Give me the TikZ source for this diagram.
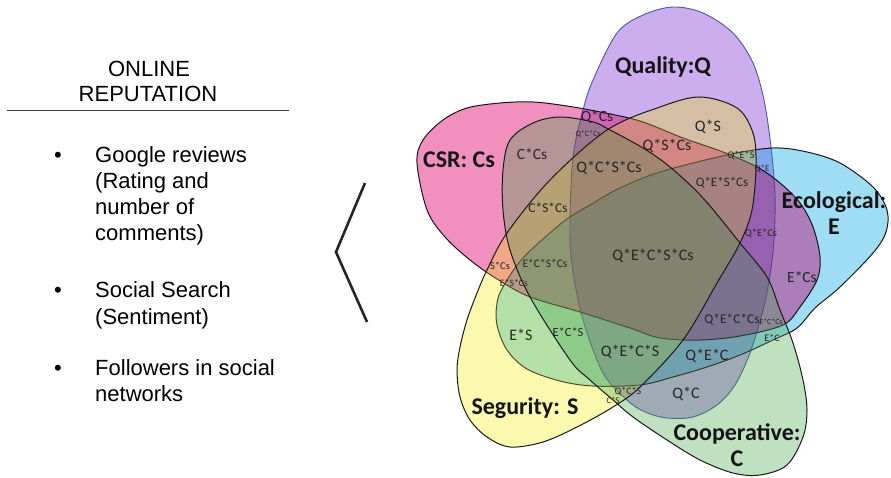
\documentclass[tikz,border=0pt]{standalone}
\usepackage{fontspec}
\setmainfont{Liberation Sans}
\newfontfamily\vfont{Carlito}
% colours of the single regions (used with multiply)
\definecolor{qfill}{RGB}{205,175,240}
\definecolor{efill}{RGB}{160,222,246}
\definecolor{cfill}{RGB}{192,226,192}
\definecolor{sfill}{RGB}{252,250,175}
\definecolor{csfill}{RGB}{242,145,192}
% full colours for 50% normal blending giving the same single regions
\definecolor{qfull}{RGB}{155,95,225}
\definecolor{efull}{RGB}{65,189,237}
\definecolor{cfull}{RGB}{129,197,129}
\definecolor{sfull}{RGB}{249,245,95}
\definecolor{csfull}{RGB}{229,35,129}
\definecolor{qline}{RGB}{70,100,170}
\begin{document}
\begin{tikzpicture}[x=1pt,y=-1pt,
  lbl/.style={font=\vfont\fontsize{#1}{#1}\selectfont, inner sep=0pt, text=black!85},
  big/.style={font=\vfont\bfseries\fontsize{24}{28}\selectfont, inner sep=0pt, align=center, text=black!92},
  txt/.style={font=\fontsize{22}{26}\selectfont, inner sep=0pt, anchor=base west},
  ttl/.style={font=\fontsize{22}{26}\selectfont, inner sep=0pt, anchor=base},
  bul/.style={font=\fontsize{22}{26}\selectfont, inner sep=0pt, anchor=base},
  rim/.style={line width=1pt, draw=black!90},
  qrim/.style={line width=0.9pt, draw=qline},
  egg/.style={smooth cycle, tension=0.55}]
\useasboundingbox (0,0) rectangle (891,478);
\fill[white] (0,0) rectangle (891,478);

% ---- set shapes ----
\def\Qpts{(673,7) (703,13) (733,33) (753,63) (764,100) (771,147) (775,195) (774,240) (770,275) (763,310) (750,353) (735,385) (717,405) (693,417) (667,418) (645,412) (627,400) (603,373) (583,320) (572,265) (570,220) (573,157) (583,110) (593,80) (617,33) (643,15)}
\def\Epts{(773,148) (807,152) (840,163) (873,187) (887,210) (886,232) (873,253) (840,287) (815,308) (797,328) (773,340) (740,355) (707,367) (673,377) (640,385) (593,386) (560,381) (527,369) (507,350) (497,325) (497,303) (503,287) (523,258) (563,222) (590,205) (620,188) (660,172) (727,155)}
\def\Cpts{(510,140) (533,123) (560,117) (593,122) (610,130) (643,148) (670,167) (703,198) (740,243) (767,277) (780,310) (793,343) (803,380) (807,410) (803,437) (787,465) (760,475) (733,473) (700,460) (667,440) (633,417) (613,400) (590,380) (570,360) (530,297) (510,250) (503,210) (503,170)}
\def\Spts{(700,97) (737,108) (753,133) (756,165) (752,210) (740,243) (717,283) (683,340) (640,387) (613,407) (577,427) (543,442) (510,447) (487,437) (470,420) (460,397) (457,370) (460,347) (467,320) (477,293) (487,270) (507,233) (550,180) (607,130) (660,107)}
\def\CSpts{(417,163) (423,140) (443,120) (467,108) (500,103) (533,102) (567,106) (600,112) (640,121) (683,138) (723,152) (757,167) (780,183) (800,203) (813,227) (820,257) (817,280) (800,307) (783,325) (740,336) (700,340) (660,338) (630,328) (580,312) (530,297) (497,279) (470,260) (445,237) (427,210)}

% multiply version
\begin{scope}[blend mode=multiply]
  \fill[qfill] plot[egg] coordinates {\Qpts};
  \draw[qrim] plot[egg] coordinates {\Qpts};
  \fill[efill] plot[egg] coordinates {\Epts};
  \draw[rim] plot[egg] coordinates {\Epts};
  \fill[csfill] plot[egg] coordinates {\CSpts};
  \draw[rim] plot[egg] coordinates {\CSpts};
  \fill[sfill] plot[egg] coordinates {\Spts};
  \fill[cfill] plot[egg] coordinates {\Cpts};
\end{scope}
% normal-blend version, averaged in at half strength
\begin{scope}[transparency group, opacity=0.5]
  \fill[white] (405,0) rectangle (891,478);
  \fill[qfull, fill opacity=0.5] plot[egg] coordinates {\Qpts};
  \draw[qrim] plot[egg] coordinates {\Qpts};
  \fill[efull, fill opacity=0.5] plot[egg] coordinates {\Epts};
  \draw[rim] plot[egg] coordinates {\Epts};
  \fill[csfull, fill opacity=0.5] plot[egg] coordinates {\CSpts};
  \draw[rim] plot[egg] coordinates {\CSpts};
  \fill[sfull, fill opacity=0.5] plot[egg] coordinates {\Spts};
  \fill[cfull, fill opacity=0.5] plot[egg] coordinates {\Cpts};
\end{scope}

\draw[rim] plot[egg] coordinates {\Spts};
\draw[rim] plot[egg] coordinates {\Cpts};

% ---- set names ----
\node[big] (nQ) at (663,67) {Quality:Q};
\node[big] (nCs) at (459,160) {CSR: Cs};
\node[big] (nE) at (834,213) {Ecological:\\[-2pt]E};
\node[big] (nS) at (525,408) {Segurity: S};
\node[big] (nC) at (737,445) {Cooperative:\\[-2pt]C};

% ---- region labels ----
\node[lbl=15.5] (r1) at (597,117) {Q*Cs};
\node[lbl=8] (r2) at (588,134) {Q*C*Cs};
\node[lbl=15.5] (r3) at (532,154) {C*Cs};
\node[lbl=16] (r4) at (609,168) {Q*C*S*Cs};
\node[lbl=16] (r5) at (708,127) {Q*S};
\node[lbl=16] (r6) at (667,146) {Q*S*Cs};
\node[lbl=10.3] (r7) at (741,156) {Q*E*S};
\node[lbl=9] (r8) at (762,169) {Q*E};
\node[lbl=13] (r9) at (722,183) {Q*E*S*Cs};
\node[lbl=10.4] (r10) at (761,233) {Q*E*Cs};
\node[lbl=15.5] (r11) at (802,277) {E*Cs};
\node[lbl=16] (r12) at (653,256) {Q*E*C*S*Cs};
\node[lbl=13.4] (r13) at (548,208) {C*S*Cs};
\node[lbl=11.5] (r14) at (545,263) {E*C*S*Cs};
\node[lbl=10.5] (r15) at (500,266) {S*Cs};
\node[lbl=9.8] (r16) at (514,283) {E*S*Cs};
\node[lbl=16] (r17) at (521,335) {E*S};
\node[lbl=12.5] (r18) at (568,332) {E*C*S};
\node[lbl=16] (r19) at (630,352) {Q*E*C*S};
\node[lbl=13.4] (r20) at (732,320) {Q*E*C*Cs};
\node[lbl=7.8] (r21) at (771,322) {E*C*Cs};
\node[lbl=10] (r22) at (772,338) {E*C};
\node[lbl=16] (r23) at (707,356) {Q*E*C};
\node[lbl=16] (r24) at (686,394) {Q*C};
\node[lbl=10] (r25) at (628,392) {Q*C*S};
\node[lbl=8.7] (r26) at (613,400) {C*S};

% ---- left panel ----
\node[ttl] (t1) at (149,77) {ONLINE};
\node[ttl] (t2) at (148,102) {REPUTATION};
\coordinate (ruleL) at (7,110);
\coordinate (ruleR) at (289,110);
\draw[line width=0.8pt, black!75] (ruleL) -- (ruleR);

\node[bul] (b1) at (58,163) {\textbullet};
\node[txt] (a1) at (95,163) {Google reviews};
\node[txt] (a2) at (95,189) {(Rating and};
\node[txt] (a3) at (95,215) {number of};
\node[txt] (a4) at (95,241) {comments)};
\node[bul] (b2) at (58,298) {\textbullet};
\node[txt] (a5) at (95,298) {Social Search};
\node[txt] (a6) at (95,324) {(Sentiment)};
\node[bul] (b3) at (58,375) {\textbullet};
\node[txt] (a7) at (95,375) {Followers in social};
\node[txt] (a8) at (95,401) {networks};

% ---- chevron ----
\coordinate (chT) at (365,183);
\coordinate (chV) at (336,252);
\coordinate (chB) at (367,322);
\draw[line width=2.6pt, black!85] (chT) -- (chV) -- (chB);
\end{tikzpicture}
\end{document}
